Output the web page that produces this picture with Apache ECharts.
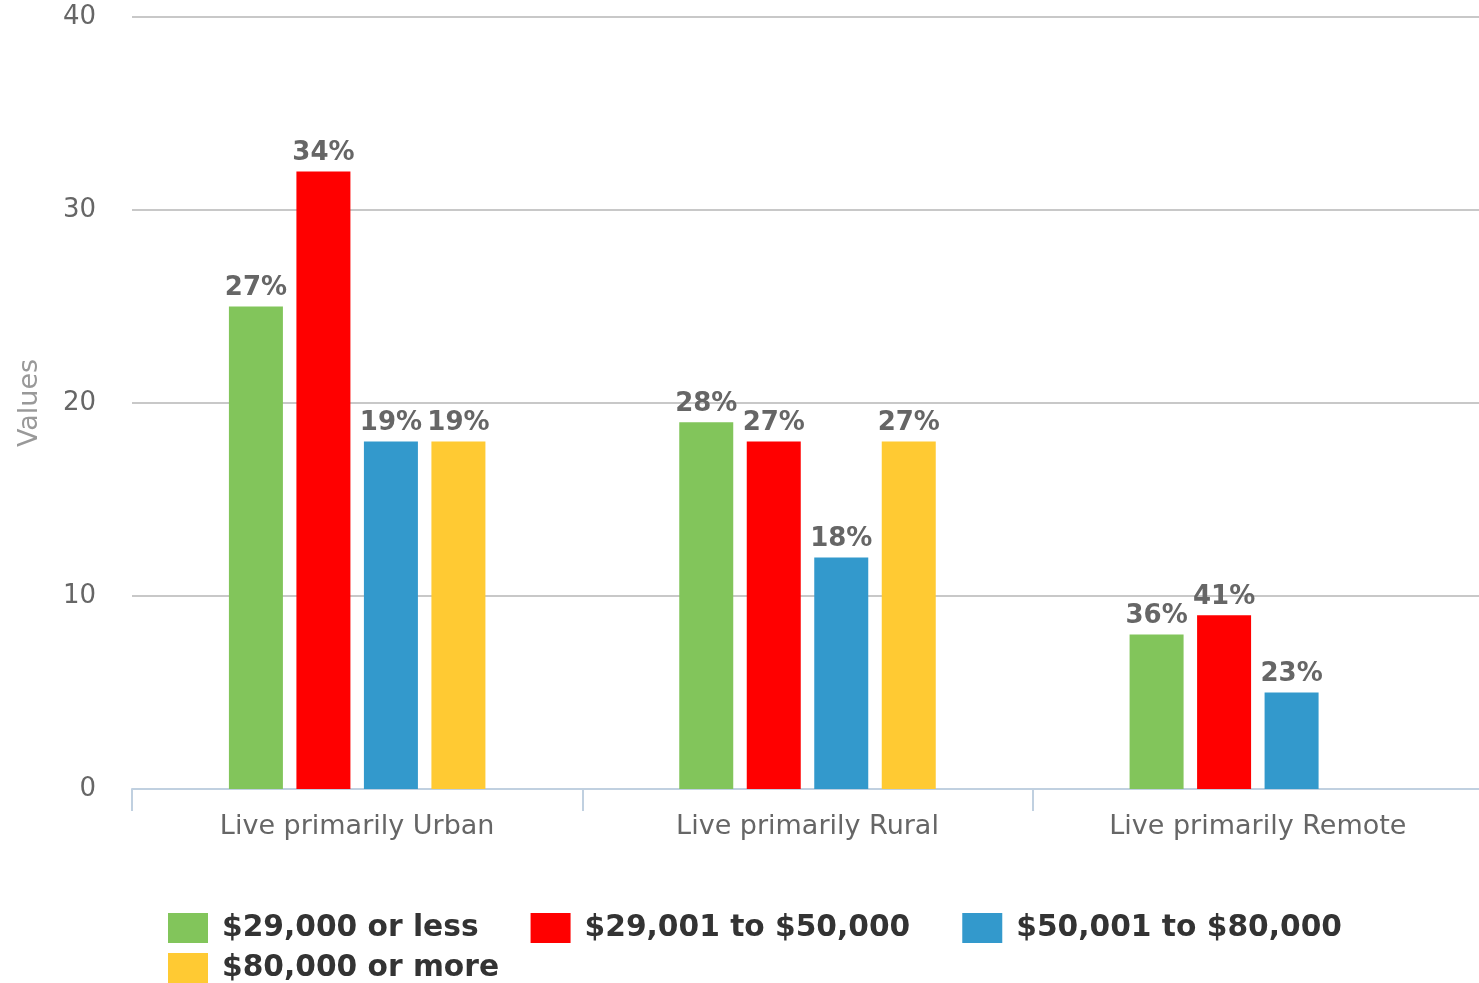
<!DOCTYPE html>
<html>
<head>
<meta charset="utf-8">
<script src="https://cdn.jsdelivr.net/npm/echarts@6/dist/echarts.min.js"></script>
<style>
html,body{margin:0;padding:0;background:#fff;overflow:hidden;}
#chart{width:1483px;height:983px;}
</style>
</head>
<body>
<div id="chart"></div>
<script>
const categories = ['Live primarily Urban', 'Live primarily Rural', 'Live primarily Remote'];
const seriesNames = ['$29,000 or less', '$29,001 to $50,000', '$50,001 to $80,000', '$80,000 or more'];
const under29k = [25, 19, 8];
const from29to50k = [32, 18, 9];
const from50to80k = [18, 12, 5];
const over80k = [18, 18, null];
const under29kPct = ['27%', '28%', '36%'];
const from29to50kPct = ['34%', '27%', '41%'];
const from50to80kPct = ['19%', '18%', '23%'];
const over80kPct = ['19%', '27%', ''];
const yTicks = [0, 10, 20, 30, 40];
const colors = ['#82c55b', '#ff0000', '#3399cc', '#ffca33'];

const values = [under29k, from29to50k, from50to80k, over80k];
const pcts = [under29kPct, from29to50kPct, from50to80kPct, over80kPct];
const FONT = 'DejaVu Sans';

const legendText = {fontFamily: FONT, fontWeight: 'bold', fontSize: 29.7, color: '#333', padding: [0, 0, 0, 9]};

const chart = echarts.init(document.getElementById('chart'), null, {renderer: 'canvas'});
chart.setOption({
  animation: false,
  color: colors,
  grid: {left: 132, right: 0, top: 17, bottom: 194, containLabel: false},
  legend: [{
    data: seriesNames.slice(0, 3),
    left: 168, top: 913, orient: 'horizontal', padding: 0,
    itemWidth: 40, itemHeight: 30, itemGap: 52,
    icon: 'rect', selectedMode: false,
    textStyle: legendText
  }, {
    data: seriesNames.slice(3),
    left: 168, top: 953, orient: 'horizontal', padding: 0,
    itemWidth: 40, itemHeight: 30, itemGap: 52,
    icon: 'rect', selectedMode: false,
    textStyle: legendText
  }],
  xAxis: {
    type: 'category',
    data: categories,
    axisLine: {lineStyle: {color: '#c0d0e0', width: 2}},
    axisTick: {show: true, length: 22, lineStyle: {color: '#c0d0e0', width: 2}},
    axisLabel: {fontFamily: FONT, fontSize: 27, color: '#666', margin: 24},
    splitLine: {show: false}
  },
  yAxis: {
    type: 'value',
    min: yTicks[0], max: yTicks[yTicks.length - 1], interval: 10,
    name: 'Values', nameLocation: 'middle', nameGap: 89, nameRotate: 90,
    nameTextStyle: {fontFamily: FONT, fontSize: 27, color: '#999'},
    axisLine: {show: false},
    axisTick: {show: false},
    axisLabel: {fontFamily: FONT, fontSize: 26, color: '#666', margin: 36},
    splitLine: {lineStyle: {color: '#c8c8c8', width: 2}}
  },
  series: values.map((v, i) => ({
    name: seriesNames[i],
    type: 'bar',
    data: v.map(x => x === null ? '-' : x),
    barWidth: 54,
    barGap: '25%',
    itemStyle: {color: colors[i]},
    label: {
      show: true, position: 'top', distance: 5,
      fontFamily: FONT, fontWeight: 'bold', fontSize: 26, color: '#666',
      formatter: p => pcts[i][p.dataIndex]
    }
  }))
});
</script>
</body>
</html>
